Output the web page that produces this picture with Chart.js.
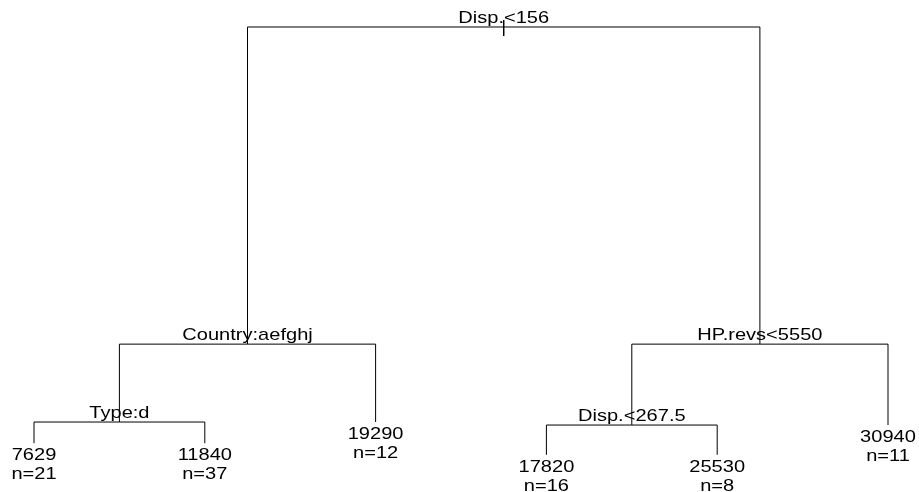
<!DOCTYPE html>
<html>
<head>
<meta charset="utf-8">
<script src="https://cdn.jsdelivr.net/npm/chart.js@4"></script>
<style>
  html, body { margin:0; padding:0; background:#fff; }
  #wrap { width:919px; height:492px; }
</style>
</head>
<body>
<div id="wrap"><canvas id="tree" width="919" height="492"></canvas></div>
<script>
// arbre de régression (style rpart) — Price

// noeuds de coupure
const splitLabels  = ["Disp.<156", "Country:aefghj", "Type:d", "HP.revs<5550", "Disp.<267.5"];
const splitHeights = [100, 31.8, 15.05, 31.8, 14.4];
const splitLeft    = ["s1", "s2", "l0", "s4", "l3"];
const splitRight   = ["s3", "l2", "l1", "l5", "l4"];

// feuilles
const leafValues  = ["7629", "11840", "19290", "17820", "25530", "30940"];
const leafCounts  = [21, 37, 12, 16, 8, 11];
const leafHeights = [10.5, 10.5, 15.05, 8.0, 8.0, 14.4];

// position x : feuilles à 1..n, coupure = milieu de ses enfants
const pos = {};
leafValues.forEach((v, i) => { pos["l" + i] = { x: i + 1, y: leafHeights[i] }; });
function place(id) {
  if (pos[id]) return pos[id];
  const i = +id.slice(1);
  const a = place(splitLeft[i]), b = place(splitRight[i]);
  pos[id] = { x: (a.x + b.x) / 2, y: splitHeights[i] };
  return pos[id];
}
place("s0");

// branches : enfant -> hauteur du parent -> parent
const datasets = [];
splitLabels.forEach((lab, i) => {
  const p = pos["s" + i];
  [splitLeft[i], splitRight[i]].forEach(c => {
    const q = pos[c];
    datasets.push({
      data: [{ x: q.x, y: q.y }, { x: q.x, y: p.y }, { x: p.x, y: p.y }],
      showLine: true, borderColor: '#000', borderWidth: 1, pointRadius: 0, tension: 0
    });
  });
});
// petit trait au-dessus de la racine
datasets.push({
  data: [{ x: pos.s0.x, y: splitHeights[0] + 1.5 }, { x: pos.s0.x, y: splitHeights[0] - 1.9 }],
  showLine: true, borderColor: '#000', borderWidth: 1, pointRadius: 0
});

const SX = 1.18; // texte étiré horizontalement comme sur l'original

function drawText(ctx, txt, x, y, W) {
  const w = ctx.measureText(txt).width * SX;
  if (x - w / 2 < 1) x = w / 2 + 1;
  if (x + w / 2 > W - 1) x = W - 1 - w / 2;
  ctx.save();
  ctx.translate(x, y);
  ctx.scale(SX, 1);
  ctx.fillText(txt, 0, 0);
  ctx.restore();
}

const labelsPlugin = {
  id: 'labels',
  afterDatasetsDraw(chart) {
    const ctx = chart.ctx, xs = chart.scales.x, ys = chart.scales.y;
    ctx.save();
    ctx.fillStyle = '#000';
    ctx.font = '17px "Liberation Sans", Arial, sans-serif';
    ctx.textAlign = 'center';
    ctx.textBaseline = 'alphabetic';
    splitLabels.forEach((lab, i) => {
      const p = pos["s" + i];
      drawText(ctx, lab, xs.getPixelForValue(p.x), ys.getPixelForValue(p.y) - 4, chart.width);
    });
    leafValues.forEach((v, i) => {
      const p = pos["l" + i];
      const px = xs.getPixelForValue(p.x), py = ys.getPixelForValue(p.y);
      drawText(ctx, v, px, py + 17, chart.width);
      drawText(ctx, "n=" + leafCounts[i], px, py + 36, chart.width);
    });
    ctx.restore();
  }
};

new Chart(document.getElementById("tree"), {
  type: 'scatter',
  data: { datasets },
  options: {
    responsive: false,
    animation: false,
    layout: { padding: 0 },
    plugins: { legend: { display: false }, tooltip: { enabled: false } },
    scales: {
      x: { type: 'linear', display: false, min: 0.8009, max: 6.1815 },
      y: { type: 'linear', display: false, min: 0, max: 105.806 }
    }
  },
  plugins: [labelsPlugin]
});
</script>
</body>
</html>
